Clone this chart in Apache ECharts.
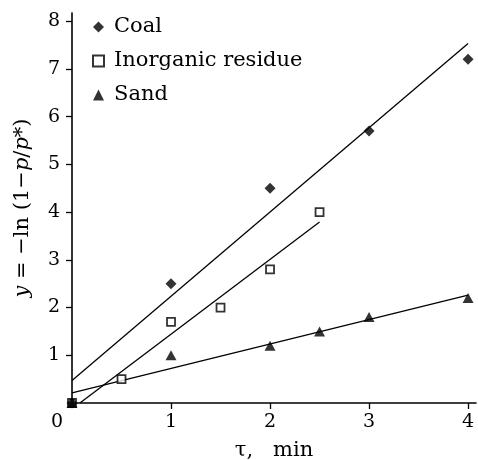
<!DOCTYPE html>
<html>
<head>
<meta charset="utf-8">
<script src="https://cdn.jsdelivr.net/npm/echarts@6/dist/echarts.min.js"></script>
<style>
  html, body { margin: 0; padding: 0; background: #fff; }
  #chart { width: 478px; height: 460px; }
</style>
</head>
<body>
<div id="chart"></div>
<script>
// measured points, [tau (min), y]
const coal = [[0, 0], [1, 2.5], [2, 4.5], [3, 5.7], [4, 7.2]]
const inorganic = [[0, 0], [0.5, 0.5], [1, 1.7], [1.5, 2.0], [2, 2.8], [2.5, 4.0]]
const sand = [[0, 0], [1, 1.0], [2, 1.2], [2.5, 1.5], [3, 1.8], [4, 2.2]]

// fitted straight lines (end points)
const coalFit = [[0, 0.47], [4, 7.53]]
const inorganicFit = [[0.08, 0], [2.5, 3.79]]
const sandFit = [[0, 0.21], [4, 2.26]]

const xTicks = [1, 2, 3, 4]
const xLabels = [0, 1, 2, 3, 4]
const yTicks = [1, 2, 3, 4, 5, 6, 7, 8]

const serif = 'DejaVu Serif'
const ink = '#000'

const chart = echarts.init(document.getElementById('chart'))

const fitLine = (name, data) => ({
  name: name,
  type: 'line',
  data: data,
  symbol: 'none',
  silent: true,
  lineStyle: { color: ink, width: 1.3 },
  z: 1
})

chart.setOption({
  animation: false,
  grid: { left: 72, top: 13, right: 2, bottom: 57, outerBoundsMode: 'none' },
  legend: {
    orient: 'vertical',
    left: 87,
    top: 11,
    itemWidth: 11,
    itemHeight: 11,
    itemGap: 12,
    data: [
      { name: 'Coal', icon: 'diamond' },
      { name: 'Inorganic residue', icon: 'rect' },
      { name: 'Sand', icon: 'triangle' }
    ],
    textStyle: { fontFamily: serif, fontSize: 21, color: ink, padding: [0, 0, 0, 5], lineHeight: 22 }
  },
  xAxis: {
    type: 'value',
    min: 0,
    max: 4.08,
    name: 'τ,   min',
    nameLocation: 'middle',
    nameGap: 37,
    nameTextStyle: { fontFamily: serif, fontSize: 21, color: ink },
    axisLine: { lineStyle: { color: ink, width: 1.6 } },
    axisTick: { customValues: xTicks, inside: false, length: 6, lineStyle: { color: ink, width: 1.3 } },
    axisLabel: {
      customValues: xLabels,
      margin: 10,
      fontFamily: serif,
      fontSize: 19,
      color: ink,
      formatter: v => v === 0 ? '{z|0}' : String(v),
      rich: { z: { fontFamily: serif, fontSize: 19, color: ink, padding: [0, 30, 0, 0] } }
    },
    splitLine: { show: false }
  },
  yAxis: {
    type: 'value',
    min: 0,
    max: 8.17,
    name: '{i|y} = −ln (1−{i|p}/{i|p}*)',
    nameLocation: 'middle',
    nameGap: 39,
    nameRotate: 90,
    nameTextStyle: {
      fontFamily: serif, fontSize: 21, color: ink,
      rich: { i: { fontFamily: serif, fontStyle: 'italic', fontSize: 21, color: ink } }
    },
    axisLine: { lineStyle: { color: ink, width: 1.6 } },
    axisTick: { customValues: yTicks, inside: false, length: 6, lineStyle: { color: ink, width: 1.3 } },
    axisLabel: { customValues: yTicks, margin: 12, fontFamily: serif, fontSize: 19, color: ink },
    splitLine: { show: false }
  },
  series: [
    fitLine('coalFit', coalFit),
    fitLine('inorganicFit', inorganicFit),
    fitLine('sandFit', sandFit),
    {
      name: 'Inorganic residue',
      type: 'scatter',
      data: inorganic,
      symbol: 'rect',
      symbolSize: 8,
      itemStyle: { color: '#fff', borderColor: ink, borderWidth: 1.8 },
      z: 3
    },
    {
      name: 'Coal',
      type: 'scatter',
      data: coal,
      symbol: 'diamond',
      symbolSize: 11,
      itemStyle: { color: ink },
      z: 4
    },
    {
      name: 'Sand',
      type: 'scatter',
      data: sand,
      symbol: 'triangle',
      symbolSize: [11, 10],
      itemStyle: { color: ink },
      z: 4
    }
  ]
})
</script>
</body>
</html>
